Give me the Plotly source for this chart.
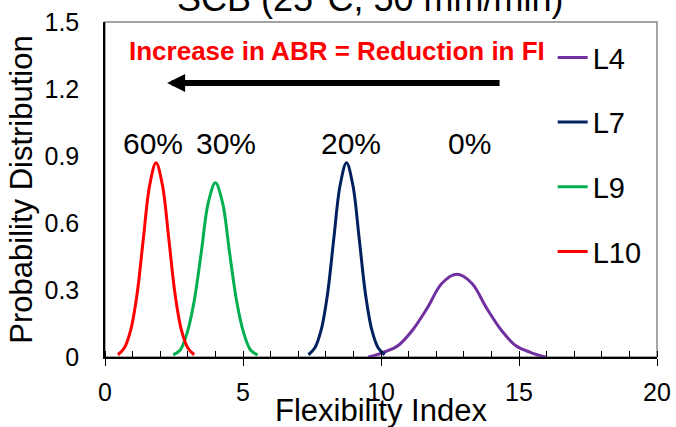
import plotly.graph_objects as go

FONT = "Liberation Sans, Arial, sans-serif"

# Values (Flexibility Index vs probability density)
l4_x = [9.54, 10.07, 10.61, 11.14, 11.68, 12.21, 12.75, 13.29, 13.82, 14.36, 14.89, 15.43, 15.96]
l4_y = [0.00, 0.02, 0.05, 0.12, 0.22, 0.33, 0.37, 0.33, 0.22, 0.12, 0.05, 0.02, 0.00]

l7_x = [7.37, 7.60, 7.83, 8.06, 8.29, 8.52, 8.75, 8.98, 9.21, 9.44, 9.67, 9.90, 10.13]
l7_y = [0.01, 0.04, 0.12, 0.28, 0.53, 0.77, 0.87, 0.77, 0.53, 0.28, 0.12, 0.04, 0.01]

l9_x = [2.47, 2.72, 2.98, 3.23, 3.49, 3.74, 4.00, 4.26, 4.51, 4.77, 5.02, 5.28, 5.53]
l9_y = [0.01, 0.03, 0.11, 0.25, 0.47, 0.69, 0.78, 0.69, 0.47, 0.25, 0.11, 0.03, 0.01]

l10_x = [0.47, 0.70, 0.93, 1.16, 1.39, 1.62, 1.85, 2.08, 2.31, 2.54, 2.77, 3.00, 3.23]
l10_y = [0.01, 0.04, 0.12, 0.28, 0.53, 0.77, 0.87, 0.77, 0.53, 0.28, 0.12, 0.04, 0.01]

series_names = ["L4", "L7", "L9", "L10"]
series_colors = ["#7030A0", "#002060", "#00B050", "#FF0000"]

pct_labels = ["60%", "30%", "20%", "0%"]
pct_x = [1.75, 4.4, 8.9, 13.2]
pct_y = [0.955, 0.955, 0.955, 0.955]

x_ticks = [0, 5, 10, 15, 20]
y_ticks = [0, 0.3, 0.6, 0.9, 1.2, 1.5]
y_tick_text = ["0", "0.3", "0.6", "0.9", "1.2", "1.5"]

fig = go.Figure()
for name, xs, ys, col in zip(series_names, [l4_x, l7_x, l9_x, l10_x],
                             [l4_y, l7_y, l9_y, l10_y], series_colors):
    fig.add_trace(go.Scatter(x=xs, y=ys, mode="lines", name=name, legendgroup=name,
                             line=dict(color=col, width=3, shape="spline", smoothing=1.0)))

for t, x, y in zip(pct_labels, pct_x, pct_y):
    fig.add_annotation(x=x, y=y, text=t, showarrow=False, xanchor="center", yanchor="middle",
                       font=dict(family=FONT, size=30, color="black"))

fig.add_annotation(x=8.41, y=1.368, text="<b>Increase in ABR = Reduction in FI</b>",
                   showarrow=False, font=dict(family=FONT, size=26, color="#FF0000"))
fig.add_annotation(x=2.25, y=1.227, ax=14.35, ay=1.227, axref="x", ayref="y",
                   text="", showarrow=True, arrowhead=2, arrowsize=0.6, arrowwidth=6,
                   arrowcolor="black")

# chart title (partly above the top edge, as in the reference)
fig.add_annotation(x=0.48, y=1.0716, xref="paper", yref="paper", text="SCB (25°C, 50 mm/min)",
                   showarrow=False, xanchor="center", yanchor="middle",
                   font=dict(family=FONT, size=36, color="black"))

# x-axis title (sits close under the tick labels, as in the reference)
fig.add_annotation(x=0.5, y=-0.161, xref="paper", yref="paper", text="Flexibility Index",
                   showarrow=False, xanchor="center", yanchor="middle",
                   font=dict(family=FONT, size=31, color="black"))

fig.add_shape(type="rect", xref="paper", yref="paper", x0=0, y0=0, x1=1, y1=1,
              line=dict(color="#878787", width=1.5), layer="below")

fig.update_layout(
    width=676, height=427,
    margin=dict(l=105, r=19, t=22, b=70),
    paper_bgcolor="white", plot_bgcolor="white",
    font=dict(family=FONT, color="black"),
    legend=dict(x=0.811, y=0.97, xanchor="left", yanchor="top", bgcolor="rgba(0,0,0,0)",
                font=dict(family=FONT, size=29, color="black"), tracegroupgap=24,
                traceorder="grouped"),
    showlegend=True,
)
fig.update_xaxes(range=[0, 20], tickvals=x_ticks, showgrid=False, zeroline=False,
                 showline=True, linecolor="black", linewidth=1.5, automargin=False,
                 ticks="outside", ticklen=7, tickcolor="black", tickwidth=1,
                 tickfont=dict(family=FONT, size=25), ticklabelstandoff=5,
                 minor=dict(dtick=1, ticks="inside", ticklen=6, tickcolor="black"))
fig.update_yaxes(range=[0, 1.5], tickvals=y_ticks, ticktext=y_tick_text, showgrid=False,
                 zeroline=False, showline=True, linecolor="black", linewidth=1.5,
                 automargin=False,
                 ticks="", tickfont=dict(family=FONT, size=25), ticklabelstandoff=19,
                 title=dict(text="Probability Distribution", font=dict(family=FONT, size=31),
                            standoff=3))

fig.write_html("out.html")
